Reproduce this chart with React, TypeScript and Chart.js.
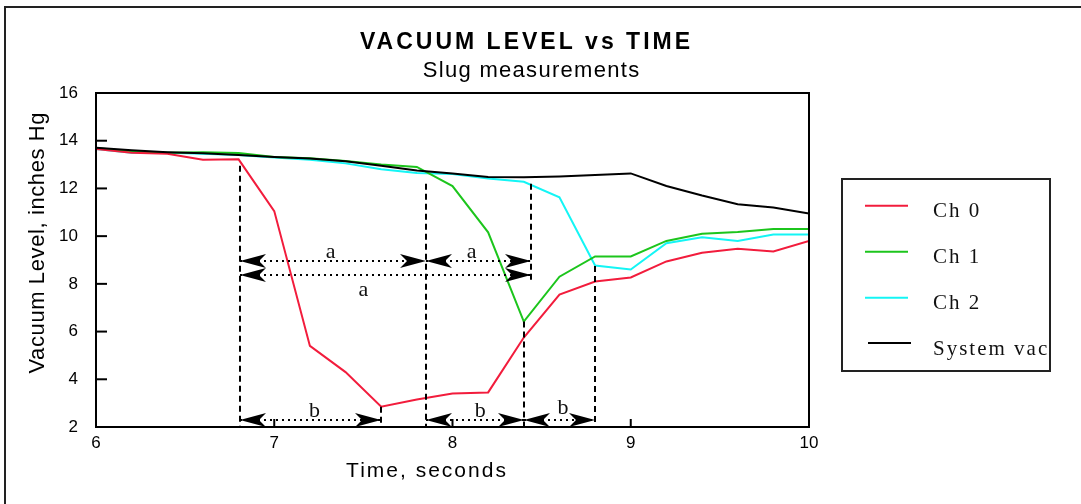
import React, { useEffect, useRef } from 'react';
import { Chart, registerables } from 'chart.js';

Chart.register(...registerables);

// ---- data ----
const TIMES = [6.0, 6.2, 6.4, 6.6, 6.8, 7.0, 7.2, 7.4, 7.6, 7.8, 8.0, 8.2, 8.4, 8.6, 8.8, 9.0, 9.2, 9.4, 9.6, 9.8, 10.0];
const CH0 = [13.65, 13.5, 13.45, 13.2, 13.22, 11.05, 5.4, 4.3, 2.85, 3.15, 3.4, 3.45, 5.75, 7.55, 8.1, 8.27, 8.94, 9.3, 9.47, 9.36, 9.8];
const CH1 = [13.7, 13.55, 13.5, 13.52, 13.48, 13.32, 13.27, 13.15, 13.0, 12.9, 12.1, 10.16, 6.42, 8.3, 9.15, 9.15, 9.8, 10.1, 10.17, 10.3, 10.3];
const CH2 = [13.65, 13.5, 13.5, 13.45, 13.4, 13.3, 13.2, 13.05, 12.8, 12.65, 12.6, 12.42, 12.28, 11.63, 8.77, 8.6, 9.7, 9.95, 9.8, 10.07, 10.07];
const SYSTEM_VAC = [13.7, 13.6, 13.52, 13.47, 13.4, 13.32, 13.25, 13.14, 12.95, 12.75, 12.63, 12.48, 12.47, 12.5, 12.56, 12.63, 12.1, 11.7, 11.34, 11.2, 10.95];

const SERIES_LABELS = ['Ch 0', 'Ch 1', 'Ch 2', 'System vac'];
const SERIES_COLORS = ['#f21c3c', '#1cc51c', '#14f5f5', '#000000'];
const SERIES_ORDER = [1, 2, 3, 0];

const X_TICKS = [6, 7, 8, 9, 10];
const Y_TICKS = [2, 4, 6, 8, 10, 12, 14, 16];

const TITLE = 'VACUUM LEVEL vs TIME';
const SUBTITLE = 'Slug measurements';
const X_TITLE = 'Time, seconds';
const Y_TITLE = 'Vacuum Level, inches Hg';

// dashed vertical markers (data coords)
const MARKER_X = [6.81, 7.6, 7.85, 8.4, 8.44, 8.8];
const MARKER_TOP = [12.95, 2.85, 12.2, 6.42, 12.2, 8.75];
const MARKER_BOTTOM = [2, 2, 2, 2, 8.07, 2];

// dotted double arrows (data coords)
const SPAN_Y = [8.94, 8.94, 8.39, 2.3, 2.3, 2.3];
const SPAN_FROM = [6.81, 7.85, 6.81, 6.81, 7.85, 8.4];
const SPAN_TO = [7.85, 8.44, 8.44, 7.6, 8.4, 8.8];
const SPAN_LABEL = ['a', 'a', 'a', 'b', 'b', 'b'];
const SPAN_LABEL_X = [7.316, 8.107, 7.5, 7.226, 8.155, 8.62];
const SPAN_LABEL_Y = [9.07, 9.07, 7.51, 2.4, 2.4, 2.54];

const SANS = '"Liberation Sans", Arial, sans-serif';
const SERIF = '"Liberation Serif", "Times New Roman", serif';

function spacedText(
  ctx: CanvasRenderingContext2D,
  text: string,
  x: number,
  y: number,
  font: string,
  spacing: number,
  align: 'left' | 'center',
  color = '#000'
) {
  ctx.save();
  ctx.font = font;
  (ctx as any).letterSpacing = spacing + 'px';
  ctx.textBaseline = 'alphabetic';
  ctx.textAlign = 'left';
  ctx.fillStyle = color;
  const w = ctx.measureText(text).width - spacing;
  const sx = align === 'center' ? x - w / 2 : x;
  ctx.fillText(text, sx, y);
  ctx.restore();
}

function arrowHead(ctx: CanvasRenderingContext2D, tipX: number, y: number, dir: number) {
  const L = 26;
  const W = 7;
  const N = 19;
  ctx.beginPath();
  ctx.moveTo(tipX, y);
  ctx.lineTo(tipX - dir * L, y - W);
  ctx.lineTo(tipX - dir * N, y);
  ctx.lineTo(tipX - dir * L, y + W);
  ctx.closePath();
  ctx.fill();
}

const decorPlugin = {
  id: 'decor',
  afterDatasetsDraw(chart: any) {
    const ctx: CanvasRenderingContext2D = chart.ctx;
    const xs = chart.scales.x;
    const ys = chart.scales.y;
    const px = (v: number) => xs.getPixelForValue(v);
    const py = (v: number) => ys.getPixelForValue(v);
    const { left, right, top, bottom } = chart.chartArea;

    ctx.save();
    // dashed markers
    ctx.strokeStyle = '#000';
    ctx.lineWidth = 2;
    ctx.setLineDash([6, 4]);
    for (let i = 0; i < MARKER_X.length; i++) {
      const x = Math.round(px(MARKER_X[i]));
      ctx.beginPath();
      ctx.moveTo(x, py(MARKER_TOP[i]));
      ctx.lineTo(x, py(MARKER_BOTTOM[i]));
      ctx.stroke();
    }
    // dotted spans
    ctx.setLineDash([2, 4]);
    for (let i = 0; i < SPAN_Y.length; i++) {
      const y = Math.round(py(SPAN_Y[i]));
      const x1 = Math.round(px(SPAN_FROM[i]));
      const x2 = Math.round(px(SPAN_TO[i]));
      ctx.beginPath();
      ctx.moveTo(x1, y);
      ctx.lineTo(x2, y);
      ctx.stroke();
    }
    ctx.setLineDash([]);
    ctx.fillStyle = '#000';
    for (let i = 0; i < SPAN_Y.length; i++) {
      const y = Math.round(py(SPAN_Y[i]));
      const x1 = Math.round(px(SPAN_FROM[i]));
      const x2 = Math.round(px(SPAN_TO[i]));
      arrowHead(ctx, x1, y, -1);
      arrowHead(ctx, x2, y, 1);
    }
    for (let i = 0; i < SPAN_LABEL.length; i++) {
      spacedText(ctx, SPAN_LABEL[i], px(SPAN_LABEL_X[i]), py(SPAN_LABEL_Y[i]), '22px ' + SERIF, 0, 'center', '#111');
    }

    // plot frame
    ctx.strokeStyle = '#000';
    ctx.lineWidth = 2;
    ctx.strokeRect(left, top, right - left, bottom - top);
    // inward ticks
    for (const v of Y_TICKS) {
      const y = py(v);
      ctx.beginPath();
      ctx.moveTo(left, y);
      ctx.lineTo(left + 11, y);
      ctx.stroke();
    }
    for (const v of X_TICKS) {
      const x = px(v);
      ctx.beginPath();
      ctx.moveTo(x, bottom);
      ctx.lineTo(x, bottom - 8);
      ctx.stroke();
    }
    ctx.restore();
  },
  afterDraw(chart: any) {
    const ctx: CanvasRenderingContext2D = chart.ctx;
    ctx.save();
    // outer frame (extends past the right and bottom edges)
    ctx.strokeStyle = '#222';
    ctx.lineWidth = 2;
    ctx.strokeRect(5, 7, 1200, 600);

    // titles
    spacedText(ctx, TITLE, 525, 49, 'bold 23px ' + SANS, 3, 'center', '#000');
    spacedText(ctx, SUBTITLE, 531, 77, '22px ' + SANS, 1.3, 'center', '#000');
    spacedText(ctx, X_TITLE, 426, 477, '21px ' + SANS, 2, 'center', '#000');
    ctx.save();
    ctx.translate(43.5, 243);
    ctx.rotate(-Math.PI / 2);
    spacedText(ctx, Y_TITLE, 0, 0, '22px ' + SANS, 0.6, 'center', '#000');
    ctx.restore();

    // legend
    ctx.strokeStyle = '#222';
    ctx.lineWidth = 2;
    ctx.strokeRect(842, 179, 208, 192);
    const rowY = [205.7, 251.7, 297.7, 343];
    for (let i = 0; i < SERIES_LABELS.length; i++) {
      const y = rowY[i];
      const sx = i === 3 ? 868 : 865;
      ctx.strokeStyle = SERIES_COLORS[i];
      ctx.lineWidth = 2;
      ctx.beginPath();
      ctx.moveTo(sx, y);
      ctx.lineTo(sx + 43, y);
      ctx.stroke();
      spacedText(ctx, SERIES_LABELS[i], 933, y + 11.5, '21px ' + SERIF, 2, 'left', '#111');
    }
    ctx.restore();
  },
};

export default function App() {
  const ref = useRef<HTMLCanvasElement | null>(null);

  useEffect(() => {
    if (!ref.current) return;
    const seriesValues = [CH0, CH1, CH2, SYSTEM_VAC];
    const chart = new Chart(ref.current, {
      type: 'line',
      data: {
        datasets: seriesValues.map((vals, i) => ({
          label: SERIES_LABELS[i],
          data: TIMES.map((t, j) => ({ x: t, y: vals[j] })),
          borderColor: SERIES_COLORS[i],
          backgroundColor: SERIES_COLORS[i],
          borderWidth: 2,
          pointRadius: 0,
          tension: 0,
          fill: false,
          order: SERIES_ORDER[i],
        })),
      },
      options: {
        responsive: false,
        animation: false,
        events: [],
        layout: { padding: { top: 93, left: 0, right: 272, bottom: 37 } },
        plugins: {
          legend: { display: false },
          title: { display: false },
          tooltip: { enabled: false },
        },
        scales: {
          x: {
            type: 'linear',
            min: 6,
            max: 10,
            afterFit: (s: any) => {
              s.height = 40;
            },
            afterBuildTicks: (s: any) => {
              s.ticks = X_TICKS.map((v) => ({ value: v }));
            },
            grid: { display: false, drawTicks: false },
            border: { display: false },
            ticks: {
              autoSkip: false,
              maxRotation: 0,
              padding: 6,
              color: '#000',
              font: { family: SANS, size: 17 },
            },
          },
          y: {
            type: 'linear',
            min: 2,
            max: 16,
            afterFit: (s: any) => {
              s.width = 96;
            },
            afterBuildTicks: (s: any) => {
              s.ticks = Y_TICKS.map((v) => ({ value: v }));
            },
            grid: { display: false, drawTicks: false },
            border: { display: false },
            ticks: {
              autoSkip: false,
              padding: 18,
              color: '#000',
              font: { family: SANS, size: 17 },
            },
          },
        },
      },
      plugins: [decorPlugin],
    } as any);
    return () => chart.destroy();
  }, []);

  return (
    <div style={{ position: 'fixed', left: 0, top: 0, width: 1081, height: 504, background: '#fff' }}>
      <canvas ref={ref} width={1081} height={504} style={{ display: 'block', width: 1081, height: 504 }} />
    </div>
  );
}
